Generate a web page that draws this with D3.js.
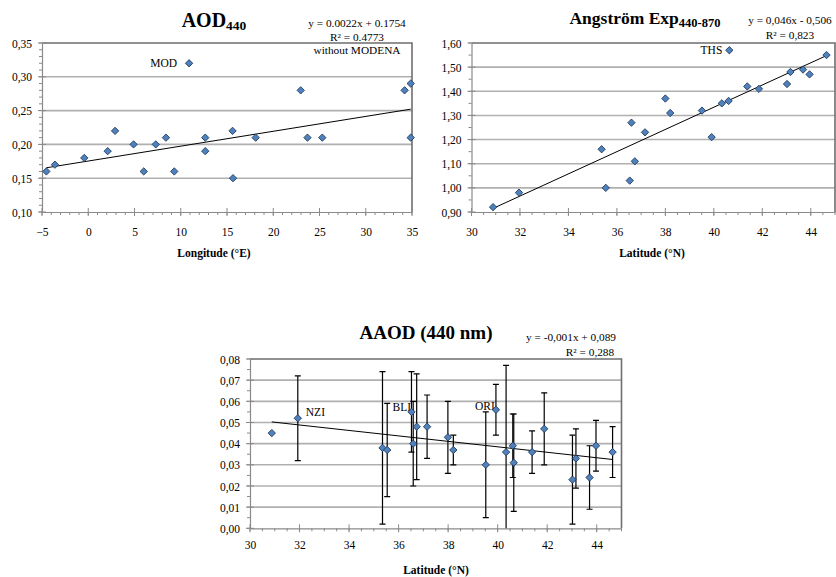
<!DOCTYPE html>
<html><head><meta charset="utf-8">
<script src="https://cdn.jsdelivr.net/npm/d3@7/dist/d3.min.js"></script>
<style>
html,body{margin:0;padding:0;background:#fff;}
</style></head>
<body><svg id="c" width="836" height="577" font-family="Liberation Serif"></svg>
<script>
// ---------- DATA ----------
// Chart 1: AOD440 vs longitude
const aodLon = [-4.53, -3.6, -0.43, 2.1, 2.9, 4.9, 6.0, 7.3, 8.4, 9.3, 10.9, 12.65, 12.65, 15.6, 15.65, 18.1, 22.97, 23.7, 25.3, 34.2, 34.86, 34.86];
const aodVal = [0.16, 0.17, 0.18, 0.19, 0.22, 0.20, 0.16, 0.20, 0.21, 0.16, 0.32, 0.21, 0.19, 0.22, 0.15, 0.21, 0.28, 0.21, 0.21, 0.28, 0.29, 0.21];
const aodTrend = [0.0022, 0.1754];           // slope, intercept
const aodEquation = ["y = 0.0022x + 0.1754", "R² = 0.4773", "without MODENA"];
const aodXTicks = [-5, 0, 5, 10, 15, 20, 25, 30, 35];
const aodYTicks = [0.10, 0.15, 0.20, 0.25, 0.30, 0.35];
const aodLabels = [["MOD", 10]];

// Chart 2: Angstrom exponent vs latitude
const angLat = [30.89, 31.96, 35.37, 35.54, 36.53, 36.6, 36.74, 37.16, 38.0, 38.2, 39.51, 39.91, 40.33, 40.61, 40.64, 41.38, 41.86, 43.02, 43.16, 43.68, 43.95, 44.65];
const angVal = [0.92, 0.98, 1.16, 1.00, 1.03, 1.27, 1.11, 1.23, 1.37, 1.31, 1.32, 1.21, 1.35, 1.36, 1.57, 1.42, 1.41, 1.43, 1.48, 1.49, 1.47, 1.55];
const angTrend = [0.046, -0.506];
const angEquation = ["y = 0,046x - 0,506", "R² = 0,823"];
const angXTicks = [30, 32, 34, 36, 38, 40, 42, 44];
const angYTicks = [0.90, 1.00, 1.10, 1.20, 1.30, 1.40, 1.50, 1.60];
const angLabels = [["THS", 14]];

// Chart 3: AAOD (440 nm) vs latitude
const aaodLat = [30.88, 31.93, 35.35, 35.54, 36.52, 36.59, 36.73, 37.15, 37.99, 38.21, 39.52, 39.93, 40.34, 40.61, 40.65, 41.39, 41.88, 43.02, 43.16, 43.71, 43.97, 44.64];
const aaodVal = [0.045, 0.052, 0.038, 0.037, 0.055, 0.040, 0.048, 0.048, 0.043, 0.037, 0.030, 0.056, 0.036, 0.039, 0.031, 0.036, 0.047, 0.023, 0.033, 0.024, 0.039, 0.036];
const aaodErr = [null, 0.020, 0.036, 0.022, 0.019, 0.020, 0.025, 0.015, 0.017, 0.007, 0.025, 0.012, 0.041, 0.015, 0.023, 0.010, 0.017, 0.021, 0.014, 0.015, 0.012, 0.012];
const aaodTrend = [-0.00129, 0.0901];
const aaodEquation = ["y = -0,001x + 0,089", "R² = 0,288"];
const aaodXTicks = [30, 32, 34, 36, 38, 40, 42, 44];
const aaodYTicks = [0.00, 0.01, 0.02, 0.03, 0.04, 0.05, 0.06, 0.07, 0.08];
const aaodLabels = [["NZI", 1], ["BLI", 4], ["ORI", 11]];

// ---------- DRAWING ----------
const FONT = "Liberation Serif";
const svg = d3.select("#c");
const comma = v => d3.format(".2f")(v).replace(".", ",");
const FILL = "#4f81bd", STROKE = "#1c3557";

function chart(o) {
  const g = svg.append("g");
  const x = d3.scaleLinear().domain(o.xDomain).range([o.left, o.right]);
  const y = d3.scaleLinear().domain(o.yDomain).range([o.bottom, o.top]);
  const clipId = "clip" + Math.round(o.left);
  svg.append("clipPath").attr("id", clipId).append("rect")
    .attr("x", o.left).attr("y", o.top).attr("width", o.right - o.left).attr("height", o.bottom - o.top);

  // gridlines
  g.selectAll(".grid").data(o.yTicks.slice(1, -1)).join("line")
    .attr("x1", o.left).attr("x2", o.right)
    .attr("y1", d => y(d)).attr("y2", d => y(d))
    .attr("stroke", "#b0b0b0").attr("stroke-width", 1.6);
  // frame top/right
  g.append("path").attr("d", `M${o.left},${o.top}H${o.right}V${o.bottom}`)
    .attr("fill", "none").attr("stroke", "#6e6e6e").attr("stroke-width", 1.6);

  // x axis
  const xa = d3.axisBottom(x).tickValues(o.xTicks).tickSize(0).tickFormat(d3.format("d"));
  const xg = g.append("g").attr("transform", `translate(0,${o.bottom})`).call(xa);
  xg.attr("font-family", FONT);
  xg.select(".domain").attr("stroke", "#8a8a8a").attr("stroke-width", 1.2);
  xg.selectAll("text").attr("font-size", 11.5).attr("dy", null).attr("y", o.xLabelDy);
  const xMinor = d3.range(o.xDomain[0], o.xDomain[1] + 1e-9, o.xMinor);
  g.selectAll(".xmin").data(xMinor).join("line")
    .attr("x1", d => x(d)).attr("x2", d => x(d))
    .attr("y1", o.bottom).attr("y2", o.bottom + 3).attr("stroke", "#8a8a8a");
  g.selectAll(".xmaj").data(o.xTicks).join("line")
    .attr("x1", d => x(d)).attr("x2", d => x(d))
    .attr("y1", o.bottom - 4).attr("y2", o.bottom + 4).attr("stroke", "#8a8a8a");

  // y axis
  const ya = d3.axisLeft(y).tickValues(o.yTicks).tickSize(0).tickFormat(comma);
  const yg = g.append("g").attr("transform", `translate(${o.left},0)`).call(ya);
  yg.attr("font-family", FONT);
  yg.select(".domain").attr("stroke", "#8a8a8a").attr("stroke-width", 1.2);
  yg.selectAll("text").attr("font-size", 11.5).attr("x", -10).attr("dy", "0.35em");
  const yMinor = d3.range(0, Math.round((o.yDomain[1] - o.yDomain[0]) / o.yMinor) + 1).map(i => o.yDomain[0] + i * o.yMinor);
  g.selectAll(".ymin").data(yMinor).join("line")
    .attr("x1", o.left - 3).attr("x2", o.left).attr("y1", d => y(d)).attr("y2", d => y(d)).attr("stroke", "#8a8a8a");
  g.selectAll(".ymaj").data(o.yTicks).join("line")
    .attr("x1", o.left - 4).attr("x2", o.left + 4).attr("y1", d => y(d)).attr("y2", d => y(d)).attr("stroke", "#8a8a8a");

  const pts = o.xs.map((v, i) => ({x: v, y: o.ys[i], e: o.errs ? o.errs[i] : null}));

  // error bars
  if (o.errs) {
    const eg = g.append("g").attr("clip-path", `url(#${clipId})`);
    const ep = pts.filter(p => p.e != null);
    eg.selectAll(".eb").data(ep).join("line")
      .attr("x1", p => x(p.x)).attr("x2", p => x(p.x))
      .attr("y1", p => y(p.y + p.e)).attr("y2", p => y(p.y - p.e))
      .attr("stroke", "#000").attr("stroke-width", 1.2);
    eg.selectAll(".capt").data(ep).join("line")
      .attr("x1", p => x(p.x) - 3).attr("x2", p => x(p.x) + 3)
      .attr("y1", p => y(p.y + p.e)).attr("y2", p => y(p.y + p.e))
      .attr("stroke", "#000").attr("stroke-width", 1.2);
    eg.selectAll(".capb").data(ep).join("line")
      .attr("x1", p => x(p.x) - 3).attr("x2", p => x(p.x) + 3)
      .attr("y1", p => y(p.y - p.e)).attr("y2", p => y(p.y - p.e))
      .attr("stroke", "#000").attr("stroke-width", 1.2);
  }

  // trend line
  const [tx0, tx1] = d3.extent(o.xs);
  g.append("line")
    .attr("x1", x(tx0)).attr("y1", y(o.trend[0] * tx0 + o.trend[1]))
    .attr("x2", x(tx1)).attr("y2", y(o.trend[0] * tx1 + o.trend[1]))
    .attr("stroke", "#000").attr("stroke-width", 1);

  // point labels
  o.labels.forEach(([t, i]) => {
    const p = pts[i];
    g.append("text").attr("x", x(p.x) + o.labelDx[t][0]).attr("y", y(p.y) + o.labelDx[t][1])
      .attr("font-size", 11.5).attr("text-anchor", o.labelDx[t][2]).text(t);
  });

  // markers
  g.selectAll(".pt").data(pts).join("path")
    .attr("d", d3.symbol().type(d3.symbolSquare).size(27))
    .attr("transform", p => `translate(${x(p.x)},${y(p.y)}) rotate(45)`)
    .attr("fill", FILL).attr("stroke", STROKE).attr("stroke-width", 0.8);

  // title
  const tt = g.append("text").attr("x", o.titleX).attr("y", o.titleY).attr("text-anchor", "middle")
    .attr("font-weight", "bold").attr("font-size", o.titleSize);
  tt.append("tspan").text(o.title[0]);
  if (o.title[1]) tt.append("tspan").attr("font-size", o.subSize).attr("dy", 3).text(o.title[1]);

  // equation
  o.equation.forEach((t, i) => {
    g.append("text").attr("x", o.eqPos[i][0]).attr("y", o.eqPos[i][1]).attr("text-anchor", "middle")
      .attr("font-size", 11.3).text(t);
  });

  // axis title
  g.append("text").attr("x", o.axisTitle[1]).attr("y", o.axisTitle[2]).attr("text-anchor", "middle")
    .attr("font-weight", "bold").attr("font-size", 11.5).text(o.axisTitle[0]);
}

chart({
  left: 42, right: 412, top: 43, bottom: 212,
  xDomain: [-5, 35], yDomain: [0.10, 0.35], xMinor: 1, yMinor: 0.01,
  xTicks: aodXTicks, yTicks: aodYTicks, xLabelDy: 24,
  xs: aodLon, ys: aodVal, trend: aodTrend,
  labels: aodLabels, labelDx: {MOD: [-12, 4, "end"]},
  title: ["AOD", "440"], titleX: 214, titleY: 27, titleSize: 20, subSize: 13.5,
  equation: aodEquation, eqPos: [[357, 27], [357, 41], [357, 54]],
  axisTitle: ["Longitude (°E)", 214, 257]
});

chart({
  left: 471.5, right: 835, top: 43, bottom: 212,
  xDomain: [30, 45], yDomain: [0.90, 1.60], xMinor: 0.5, yMinor: 0.05,
  xTicks: angXTicks, yTicks: angYTicks, xLabelDy: 24,
  xs: angLat, ys: angVal, trend: angTrend,
  labels: angLabels, labelDx: {THS: [-7, 4, "end"]},
  title: ["Angström Exp", "440-870"], titleX: 645, titleY: 24, titleSize: 17.5, subSize: 12.5,
  equation: angEquation, eqPos: [[790, 24], [790, 39]],
  axisTitle: ["Latitude (°N)", 652, 257]
});

chart({
  left: 250, right: 621.5, top: 359, bottom: 528.3,
  xDomain: [30, 45], yDomain: [0, 0.08], xMinor: 0.5, yMinor: 0.005,
  xTicks: aaodXTicks, yTicks: aaodYTicks, xLabelDy: 21,
  xs: aaodLat, ys: aaodVal, errs: aaodErr, trend: aaodTrend,
  labels: aaodLabels, labelDx: {NZI: [8, -2, "start"], BLI: [-19, -1, "start"], ORI: [-21, 0, "start"]},
  title: ["AAOD (440 nm)"], titleX: 426, titleY: 339, titleSize: 19,
  equation: aaodEquation, eqPos: [[571, 341], [590, 356]],
  axisTitle: ["Latitude (°N)", 436, 574]
});

svg.selectAll("text").attr("font-family", FONT).attr("fill", "#000");
</script></body></html>
